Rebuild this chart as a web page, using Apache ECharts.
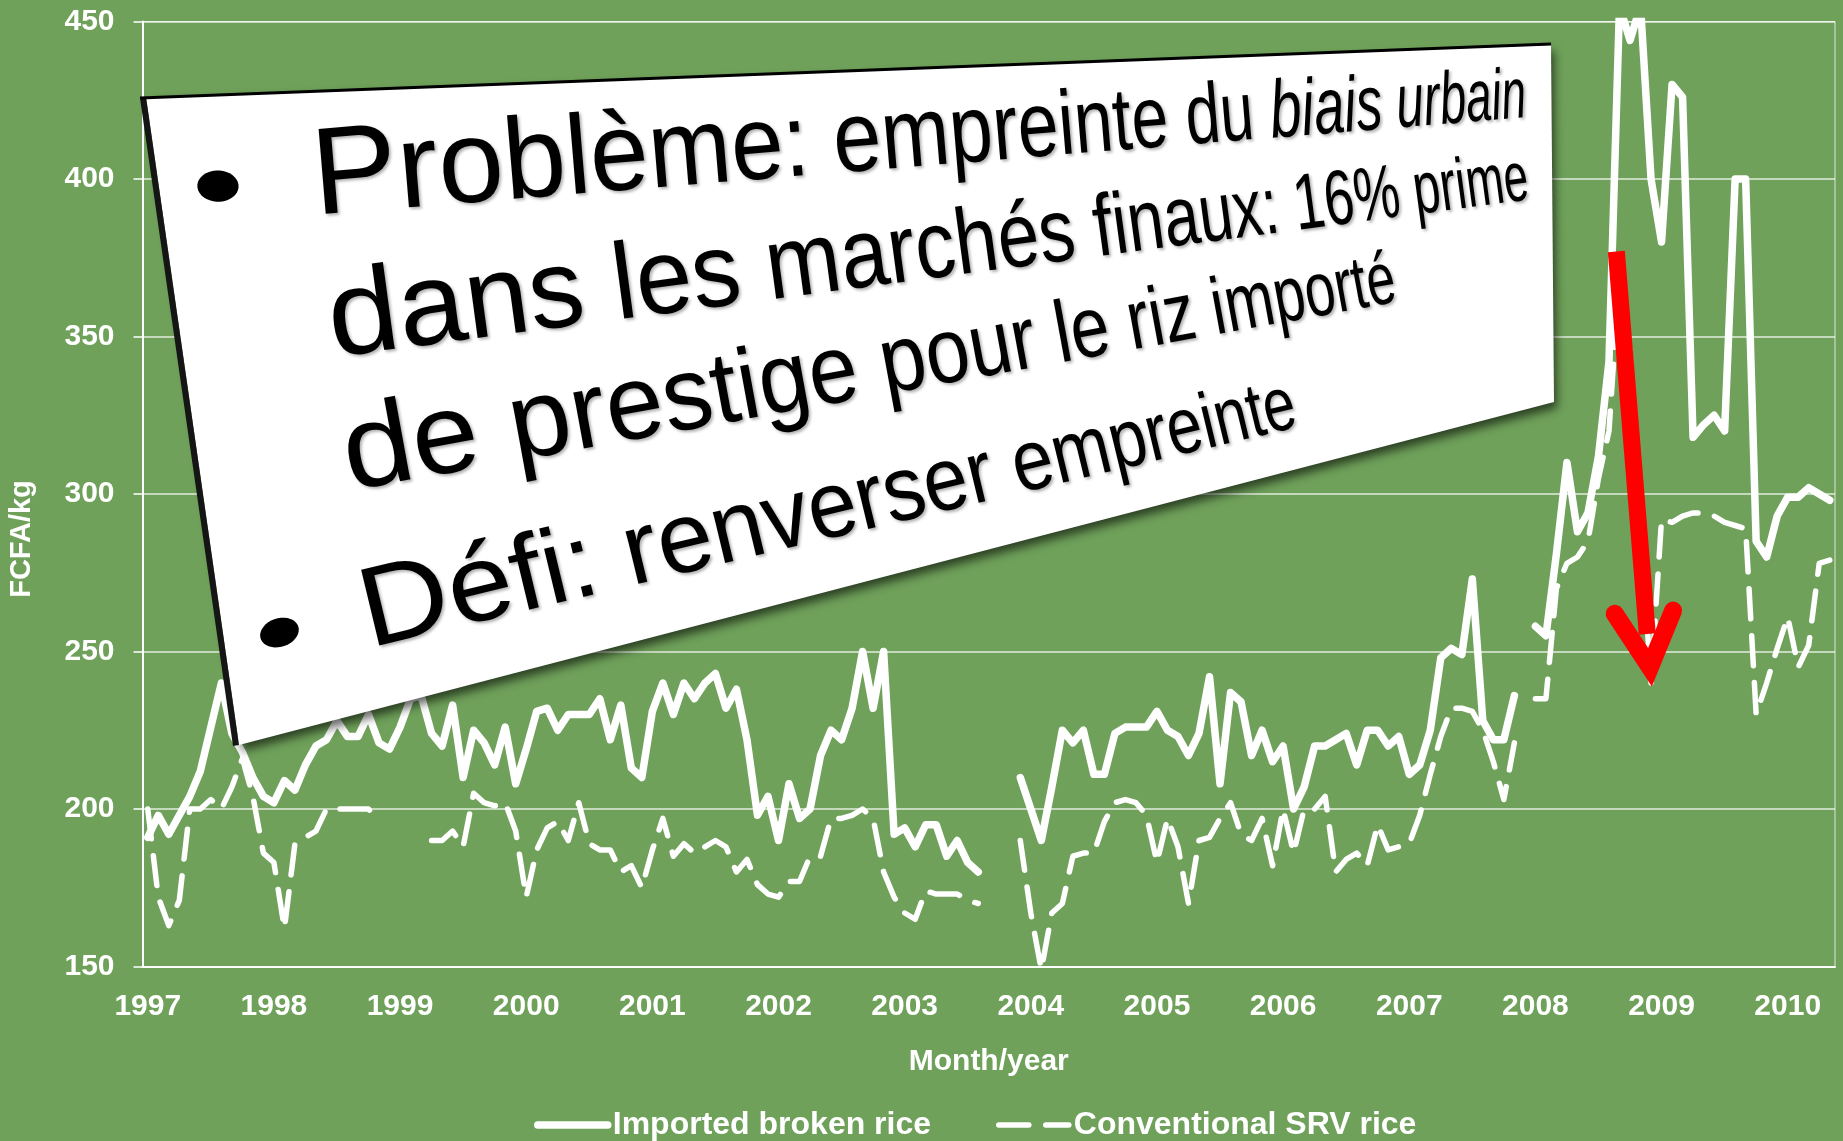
<!DOCTYPE html>
<html>
<head>
<meta charset="utf-8">
<title>Riz importé vs riz SRV</title>
<script src="https://cdn.jsdelivr.net/npm/echarts@6/dist/echarts.min.js"></script>
<style>
  html, body { margin: 0; padding: 0; background: #6fa15a; }
  #chart { width: 1843px; height: 1141px; }
</style>
</head>
<body>
<div id="chart"></div>
<script>
const FONT = 'Liberation Sans';

// x axis: monthly, Jan 1997 .. May 2010
const years = ['1997', '1998', '1999', '2000', '2001', '2002', '2003',
  '2004', '2005', '2006', '2007', '2008', '2009', '2010'];
const lastYearMonths = 5;
const months = [];
years.forEach((y, k) => {
  const n = k === years.length - 1 ? lastYearMonths : 12;
  for (let m = 1; m <= n; m++) months.push(y + '-' + String(m).padStart(2, '0'));
});

const yTicks = { min: 150, max: 450, step: 50 };

// FCFA/kg, one value per month
const importedBroken = [
  191, 198, 192, 198, 204, 212, 226, 240, 224, 218, 210, 204, // 1997
  202, 209, 206, 214, 220, 222, 228, 223, 223, 230, 221, 219, // 1998
  226, 235, 236, 224, 220, 233, 210, 225, 221, 214, 226, 208, // 1999
  219, 231, 232, 225, 230, 230, 230, 235, 222, 233, 213, 210, // 2000
  231, 240, 230, 240, 235, 240, 243, 232, 238, 222, 198, 204, // 2001
  190, 208, 197, 200, 217, 225, 222, 232, 250, 232, 250, 192, // 2002
  194, 188, 195, 195, 185, 190, 183, 180, null, null, null, 210, // 2003
  200, 190, 207, 225, 221, 225, 211, 211, 224, 226, 226, 226, // 2004
  231, 225, 223, 217, 224, 242, 208, 237, 234, 217, 225, 215, // 2005
  220, 200, 207, 220, 220, 222, 224, 214, 225, 225, 220, 223, // 2006
  211, 214, 225, 248, 251, 249, 273, 228, 222, 222, 236, null, // 2007
  258, 255, 281, 310, 288, 294, 312, 342, 455, 444, 455, 400, // 2008
  380, 430, 426, 318, 322, 325, 320, 400, 400, 285, 280, 293, // 2009
  299, 299, 302, 300, 298                                      // 2010
];

const srvRice = [
  200, 172, 163, 171, 200, 200, 203, 200, 207, 216, 204, 186, // 1997
  183, 162, 189, 191, 193, 200, 200, 200, 200, 200, 196, null, // 1998
  null, null, null, 190, 190, 193, 188, 205, 202, 201, 202, 193, // 1999
  172, 187, 194, 196, 190, 202, 189, 187, 187, 180, 182, 175, // 2000
  187, 197, 185, 189, 186, 188, 190, 188, 180, 184, 176, 173, // 2001
  172, 177, 177, 185, 185, 197, 197, 198, 200, 197, 180, 172, // 2002
  167, 165, 174, 173, 173, 173, 171, 170, null, null, null, 190, // 2003
  167, 149, 167, 170, 185, 186, 186, 196, 202, 203, 202, 198, // 2004
  183, 197, 188, 170, 190, 191, 197, 202, 192, 190, 197, 182, // 2005
  200, 186, 200, 200, 204, 180, 184, 186, 182, 195, 187, 188, // 2006
  189, 198, 211, 223, 232, 232, 231, 225, 215, 203, 221, null, // 2007
  235, 235, 270, 278, 280, 285, 305, 320, 370, 345, 290, 240, // 2008
  292, 291, 293, 294, 294, 293, 291, 290, 289, 230, 240, 251, // 2009
  261, 245, 252, 278, 279                                      // 2010
];

// red arrow, in (month index, FCFA/kg)
const arrowTail = [139.7, 377];
const arrowTip = [142.9, 245];
const arrowWings = [[139.55, 262], [145.1, 263]];

// tilted slide box (screen px): TL, TR, BR, BL
const boxCorners = [[146, 97], [1551, 45], [1554, 402], [239, 745]];
const boxLines = [
  { v: 0.204, runs: [['Problème: empreinte du ', 'normal'], ['biais urbain', 'italic']] },
  { v: 0.429, runs: [['dans les marchés finaux: 16% prime', 'normal']] },
  { v: 0.646, runs: [['de prestige pour le riz importé', 'normal']] },
  { v: 0.909, runs: [['Défi: renverser empreinte', 'normal']] }
];
const bulletV = [0.136, 0.837];

const chart = echarts.init(document.getElementById('chart'));

chart.setOption({
  animation: false,
  backgroundColor: '#6fa15a',
  textStyle: { fontFamily: FONT },
  grid: {
    left: 142.5, right: 8, top: 21.5, bottom: 174.5,
    outerBoundsMode: 'none',
    show: true, borderColor: 'rgba(255,255,255,0.75)', borderWidth: 1
  },
  legend: {
    left: 529, top: 1104, padding: 5,
    itemWidth: 70, itemHeight: 16, itemGap: 65,
    textStyle: { color: '#fff', fontWeight: 'bold', fontSize: 32, fontFamily: FONT },
    itemStyle: { opacity: 0 },
    lineStyle: { width: 'inherit' }
  },
  xAxis: {
    type: 'category',
    data: months,
    boundaryGap: true,
    name: 'Month/year',
    nameLocation: 'middle',
    nameGap: 80,
    nameTextStyle: { color: '#fff', fontWeight: 'bold', fontSize: 30, fontFamily: FONT },
    axisLine: { lineStyle: { color: '#fff', width: 2 } },
    axisTick: { interval: 0, length: 8, lineStyle: { color: 'rgba(255,255,255,0.85)', width: 1.5 } },
    axisLabel: {
      interval: 11, margin: 25,
      color: '#fff', fontWeight: 'bold', fontSize: 30, fontFamily: FONT,
      formatter: v => v.slice(0, 4)
    },
    splitLine: { show: false }
  },
  yAxis: {
    type: 'value',
    min: yTicks.min, max: yTicks.max, interval: yTicks.step,
    name: 'FCFA/kg',
    nameLocation: 'middle',
    nameGap: 106,
    nameTextStyle: { color: '#fff', fontWeight: 'bold', fontSize: 29, fontFamily: FONT, padding: [0, 90, 0, 0] },
    axisLine: { show: true, lineStyle: { color: '#fff', width: 2 } },
    axisTick: { show: true, length: 9, lineStyle: { color: '#fff', width: 1.5 } },
    axisLabel: { color: '#fff', fontWeight: 'bold', fontSize: 30, margin: 28, fontFamily: FONT },
    splitLine: { lineStyle: { color: 'rgba(255,255,255,0.8)', width: 1.5 } }
  },
  series: [
    {
      name: 'Imported broken rice',
      type: 'line',
      data: importedBroken,
      symbol: 'none',
      connectNulls: false,
      lineStyle: { color: '#fff', width: 7.5, cap: 'round', join: 'round' },
      z: 3
    },
    {
      name: 'Conventional SRV rice',
      type: 'line',
      data: srvRice,
      symbol: 'none',
      connectNulls: false,
      lineStyle: { color: '#fff', width: 5.5, type: [30, 17], cap: 'round', join: 'round' },
      z: 2
    }
  ]
});

// ---- overlay: perspective slide box ----
function homography(q) {
  const [[x0, y0], [x1, y1], [x2, y2], [x3, y3]] = q;
  const sx = x0 - x1 + x2 - x3, sy = y0 - y1 + y2 - y3;
  const dx1 = x1 - x2, dx2 = x3 - x2, dy1 = y1 - y2, dy2 = y3 - y2;
  const den = dx1 * dy2 - dx2 * dy1;
  const g = (sx * dy2 - dx2 * sy) / den;
  const h = (dx1 * sy - sx * dy1) / den;
  const a = x1 - x0 + g * x1, b = x3 - x0 + h * x3, c = x0;
  const d = y1 - y0 + g * y1, e = y3 - y0 + h * y3, f = y0;
  return (u, v) => {
    const w = g * u + h * v + 1;
    return [(a * u + b * v + c) / w, (d * u + e * v + f) / w];
  };
}

function buildBox() {
  const H = homography(boxCorners);
  const [TL, TR, BR, BL] = boxCorners;
  const els = [];
  els.push({
    type: 'polygon', z: 100, silent: true,
    shape: { points: boxCorners },
    style: { fill: '#fff', shadowBlur: 10, shadowOffsetX: 3, shadowOffsetY: 6, shadowColor: 'rgba(0,0,0,0.6)' }
  });
  // dark thickness on the left edge and the top edge
  els.push({
    type: 'polygon', z: 101, silent: true,
    shape: { points: [[TL[0] - 6, TL[1] + 1], TL, BL, [BL[0] - 6, BL[1] + 1]] },
    style: { fill: '#151515' }
  });
  els.push({
    type: 'polyline', z: 101, silent: true,
    shape: { points: [[TL[0] - 6, TL[1] + 1], [TR[0], TR[1] - 1]] },
    style: { stroke: '#000', lineWidth: 3, fill: null }
  });

  // bullets
  bulletV.forEach(bv => {
    const pts = [];
    for (let k = 0; k < 36; k++) {
      const t = k / 36 * Math.PI * 2;
      pts.push(H(0.023 + 0.0082 * Math.cos(t), bv + 0.0234 * Math.sin(t)));
    }
    els.push({ type: 'polygon', z: 110, silent: true, shape: { points: pts }, style: { fill: '#000' } });
  });

  // text, one glyph at a time so it follows the perspective
  const F0 = 100, emU = 0.0565, emV = 0.19, startU = 0.061;
  const ctx = document.createElement('canvas').getContext('2d');
  boxLines.forEach(line => {
    let u = startU;
    line.runs.forEach(([str, fstyle]) => {
      ctx.font = fstyle + ' ' + F0 + 'px "' + FONT + '"';
      for (const ch of str) {
        const adv = ctx.measureText(ch).width / F0;
        if (ch !== ' ') {
          const p0 = H(u, line.v);
          const p1 = H(u + adv * emU, line.v);
          const pt = H(u, line.v - emV);
          const ex = p1[0] - p0[0], ey = p1[1] - p0[1];
          const len = Math.hypot(ex, ey);
          const nx = -ey / len, ny = ex / len;
          const hgt = (p0[0] - pt[0]) * nx + (p0[1] - pt[1]) * ny;
          els.push({
            type: 'text', z: 111, silent: true,
            x: p0[0], y: p0[1],
            rotation: -Math.atan2(ey, ex),
            scaleX: len / (adv * F0), scaleY: hgt / F0,
            style: {
              text: ch, x: 0, y: -0.3465 * F0,
              fontSize: F0, fontFamily: FONT, fontStyle: fstyle,
              fill: '#000', align: 'left', verticalAlign: 'middle',
              textShadowColor: 'rgba(0,0,0,0.3)', textShadowBlur: 3,
              textShadowOffsetX: 2, textShadowOffsetY: 2
            }
          });
        }
        u += adv * emU;
      }
    });
  });
  return els;
}

function toPixel(p) {
  const i0 = Math.floor(p[0]);
  const a = chart.convertToPixel({ gridIndex: 0 }, [i0, p[1]]);
  const b = chart.convertToPixel({ gridIndex: 0 }, [i0 + 1, p[1]]);
  const t = p[0] - i0;
  return [a[0] + (b[0] - a[0]) * t, a[1]];
}

function buildArrow() {
  const tail = toPixel(arrowTail), tip = toPixel(arrowTip);
  const end = [tail[0] + (tip[0] - tail[0]) * 0.92, tail[1] + (tip[1] - tail[1]) * 0.92];
  return [
    {
      type: 'polyline', z: 90, silent: true,
      shape: { points: [tail, end] },
      style: { stroke: '#ff0000', lineWidth: 17, lineCap: 'butt', fill: null }
    },
    {
      type: 'polyline', z: 90, silent: true,
      shape: { points: [toPixel(arrowWings[0]), tip, toPixel(arrowWings[1])] },
      style: { stroke: '#ff0000', lineWidth: 18, lineCap: 'round', lineJoin: 'miter', fill: null }
    }
  ];
}

chart.setOption({ graphic: buildArrow().concat(buildBox()) });
</script>
</body>
</html>
